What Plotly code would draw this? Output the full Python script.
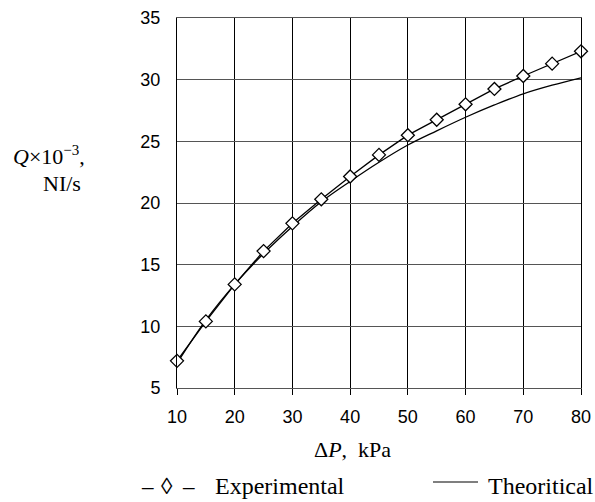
import plotly.graph_objects as go

# ---- data ----
dp_kpa = [10, 15, 20, 25, 30, 35, 40, 45, 50, 55, 60, 65, 70, 75, 80]
q_experimental = [7.2, 10.4, 13.4, 16.1, 18.35, 20.3, 22.15, 23.9, 25.5, 26.75, 28.0, 29.25, 30.3, 31.3, 32.3]
q_theoretical = [7.0, 10.5, 13.4, 15.9, 18.1, 20.1, 21.75, 23.3, 24.7, 25.85, 26.95, 27.95, 28.85, 29.55, 30.15]
x_ticks = [10, 20, 30, 40, 50, 60, 70, 80]
y_ticks = [5, 10, 15, 20, 25, 30, 35]

W, H = 595, 502
L, R, T, B = 177, 14, 18, 114
PW, PH = W - L - R, H - T - B


def px(xp):
    return (xp - L) / PW


def py(yp):
    return (H - B - yp) / PH


fig = go.Figure()
fig.add_trace(go.Scatter(
    x=dp_kpa, y=q_theoretical, mode="lines", line=dict(color="black", width=1.3, shape="spline"),
    name="Theoritical", cliponaxis=False, showlegend=False))
fig.add_trace(go.Scatter(
    x=dp_kpa, y=q_experimental, mode="lines+markers", line=dict(color="black", width=1.3),
    marker=dict(symbol="diamond", size=10, color="white", line=dict(color="black", width=1.3)),
    name="Experimental", cliponaxis=False, showlegend=False))

serif = "Liberation Serif, Times New Roman, serif"
sans = "Liberation Sans, Arial, sans-serif"

fig.update_xaxes(range=[10, 80], tickvals=x_ticks, ticktext=[str(v) for v in x_ticks],
                 automargin=False,
                 showgrid=True, gridcolor="#000000", gridwidth=1,
                 showline=True, mirror=True, linecolor="#555555", linewidth=1,
                 ticks="outside", ticklen=6, tickcolor="#000000", ticklabelstandoff=6,
                 tickfont=dict(family=sans, size=18, color="black"), zeroline=False)
fig.update_yaxes(range=[5, 35], tickvals=y_ticks, ticktext=[str(v) for v in y_ticks],
                 automargin=False,
                 showgrid=True, gridcolor="#555555", gridwidth=1,
                 showline=True, mirror=True, linecolor="#000000", linewidth=1,
                 ticks="", ticklabelstandoff=12,
                 tickfont=dict(family=sans, size=18, color="black"), zeroline=False)

ann = []
ann.append(dict(text="<i>Q</i>×10<sup><span style='font-size:15px'>−3</span></sup>,",
                x=px(11), y=py(155), xanchor="left", yanchor="middle", size=22))
ann.append(dict(text="NI/s", x=px(41), y=py(183), xanchor="left", yanchor="middle", size=22))
ann.append(dict(text="Δ<i>P</i>,\u00a0\u00a0kPa", x=px(352), y=py(449), xanchor="center", yanchor="middle", size=22))
ann.append(dict(text="–", x=px(147), y=py(486), xanchor="center", yanchor="middle", size=23))
ann.append(dict(text="◊", x=px(167), y=py(486), xanchor="center", yanchor="middle", size=23))
ann.append(dict(text="–", x=px(188), y=py(486), xanchor="center", yanchor="middle", size=23))
ann.append(dict(text="Experimental", x=px(213), y=py(486), xanchor="left", yanchor="middle", size=24))
ann.append(dict(text="Theoritical", x=px(596), y=py(486), xanchor="right", yanchor="middle", size=24))
for a in ann:
    s = a.pop("size")
    a.update(xref="paper", yref="paper", showarrow=False, font=dict(family=serif, size=s, color="black"))

fig.update_layout(
    width=W, height=H, margin=dict(l=L, r=R, t=T, b=B, pad=0, autoexpand=False),
    paper_bgcolor="white", plot_bgcolor="white", annotations=ann,
    shapes=[dict(type="line", xref="paper", yref="paper", x0=px(433), x1=px(478),
                 y0=py(482), y1=py(482), line=dict(color="black", width=1.2))],
)

fig.write_html("out.html", config={"displayModeBar": False},
               post_script="document.body.style.margin='0';document.body.style.overflow='hidden';")
